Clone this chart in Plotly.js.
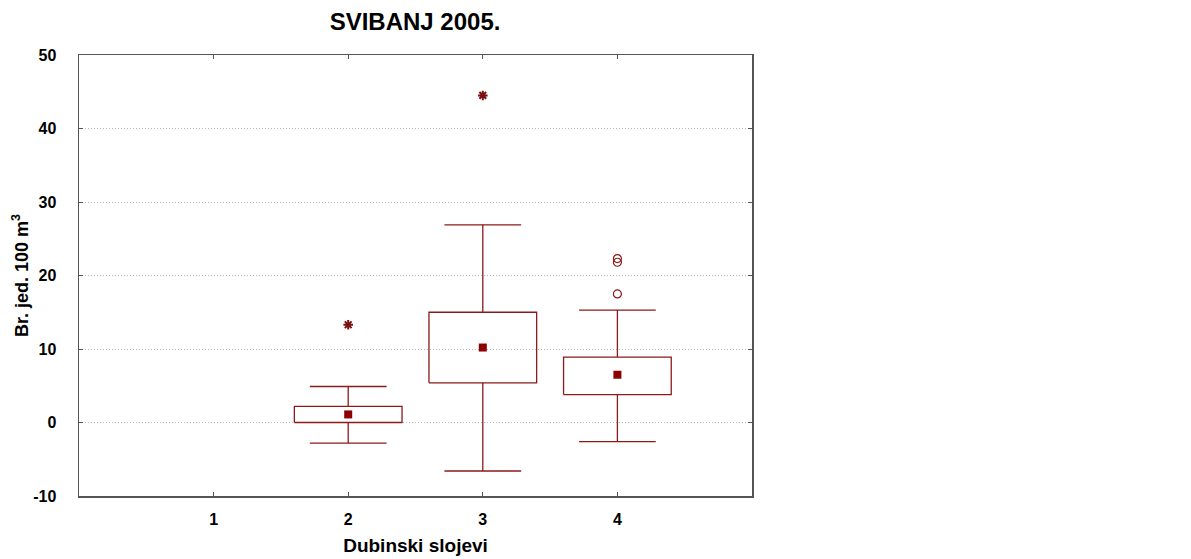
<!DOCTYPE html>
<html>
<head>
<meta charset="utf-8">
<script src="https://cdn.plot.ly/plotly-3.0.1.min.js"></script>
<style>html,body{margin:0;padding:0;background:#fff;}#chart{width:1191px;height:559px;}</style>
</head>
<body>
<div id="chart"></div>
<script>
// Data
var categories = [1, 2, 3, 4];
var tickLabels = ['1', '2', '3', '4'];
var yTickValues = [-10, 0, 10, 20, 30, 40, 50];
var yTickLabels = ['-10', '0', '10', '20', '30', '40', '50'];
var medians = [null, 1.1, 10.2, 6.5];
var q1 = [null, 0.0, 5.4, 3.8];
var q3 = [null, 2.2, 15.0, 8.9];
var whiskerLow = [null, -2.8, -6.6, -2.6];
var whiskerHigh = [null, 4.9, 26.9, 15.3];
var outlierX = [4, 4, 4];
var outlierY = [17.5, 21.8, 22.3];
var extremeX = [2, 3];
var extremeY = [13.3, 44.5];

var color = '#8b1a1a';
var boxHalf = 0.4;
var capHalf = 0.285;

var boxX = [], boxY = [], whX = [], whY = [];
categories.forEach(function (c, i) {
  if (q1[i] === null) return;
  boxX.push(c - boxHalf, c + boxHalf, c + boxHalf, c - boxHalf, c - boxHalf, null);
  boxY.push(q1[i], q1[i], q3[i], q3[i], q1[i], null);
  whX.push(c, c, null, c - capHalf, c + capHalf, null);
  whY.push(q3[i], whiskerHigh[i], null, whiskerHigh[i], whiskerHigh[i], null);
  whX.push(c, c, null, c - capHalf, c + capHalf, null);
  whY.push(q1[i], whiskerLow[i], null, whiskerLow[i], whiskerLow[i], null);
});

var traces = [
  {x: whX, y: whY, type: 'scatter', mode: 'lines', line: {color: color, width: 1.3}, hoverinfo: 'skip', showlegend: false},
  {x: boxX, y: boxY, type: 'scatter', mode: 'lines', line: {color: color, width: 1.3}, hoverinfo: 'skip', showlegend: false},
  {x: categories, y: medians, type: 'scatter', mode: 'markers',
   marker: {symbol: 'square', size: 8, color: '#8b0000'}, showlegend: false},
  {x: outlierX, y: outlierY, type: 'scatter', mode: 'markers',
   marker: {symbol: 'circle-open', size: 8, color: color, line: {width: 1.2}}, showlegend: false},
  {x: extremeX, y: extremeY, type: 'scatter', mode: 'markers',
   marker: {symbol: 'asterisk-open', size: 8, color: '#7a1010', line: {width: 2}}, showlegend: false}
];

var fam = 'Liberation Sans, Arial, sans-serif';
var layout = {
  width: 1191, height: 559,
  margin: {l: 79, r: 439, t: 55, b: 63},
  paper_bgcolor: '#fff', plot_bgcolor: '#fff',
  font: {family: fam, color: '#000'},
  title: {text: '<b>SVIBANJ 2005.</b>', x: 0.3485, xanchor: 'center', y: 0.962, yanchor: 'middle',
          font: {size: 24, family: fam, color: '#000'}},
  xaxis: {
    range: [0, 5], tickmode: 'array', tickvals: categories, ticktext: tickLabels,
    ticks: 'inside', ticklen: 4, tickcolor: '#555', showgrid: false, zeroline: false,
    showline: true, linecolor: '#555', linewidth: 1.5, mirror: 'ticks',
    tickfont: {size: 16, family: fam, weight: 'bold'},
    ticklabelstandoff: 8,
    title: {text: '<b>Dubinski slojevi</b>', standoff: 12, font: {size: 19}}
  },
  yaxis: {
    range: [-10, 50], tickmode: 'array', tickvals: yTickValues, ticktext: yTickLabels,
    ticks: 'inside', ticklen: 4, tickcolor: '#555',
    showgrid: true, gridcolor: '#b8b8b8', griddash: '1px,2px', gridwidth: 1, zeroline: false,
    showline: true, linecolor: '#555', linewidth: 1.5, mirror: 'ticks',
    tickfont: {size: 16, family: fam, weight: 'bold'},
    ticklabelstandoff: 18,
    title: {text: '<b>Br. jed. 100 m<sup>3</sup></b>', standoff: 0, font: {size: 18}}
  }
};

Plotly.newPlot('chart', traces, layout, {displayModeBar: false, staticPlot: true});
</script>
</body>
</html>
